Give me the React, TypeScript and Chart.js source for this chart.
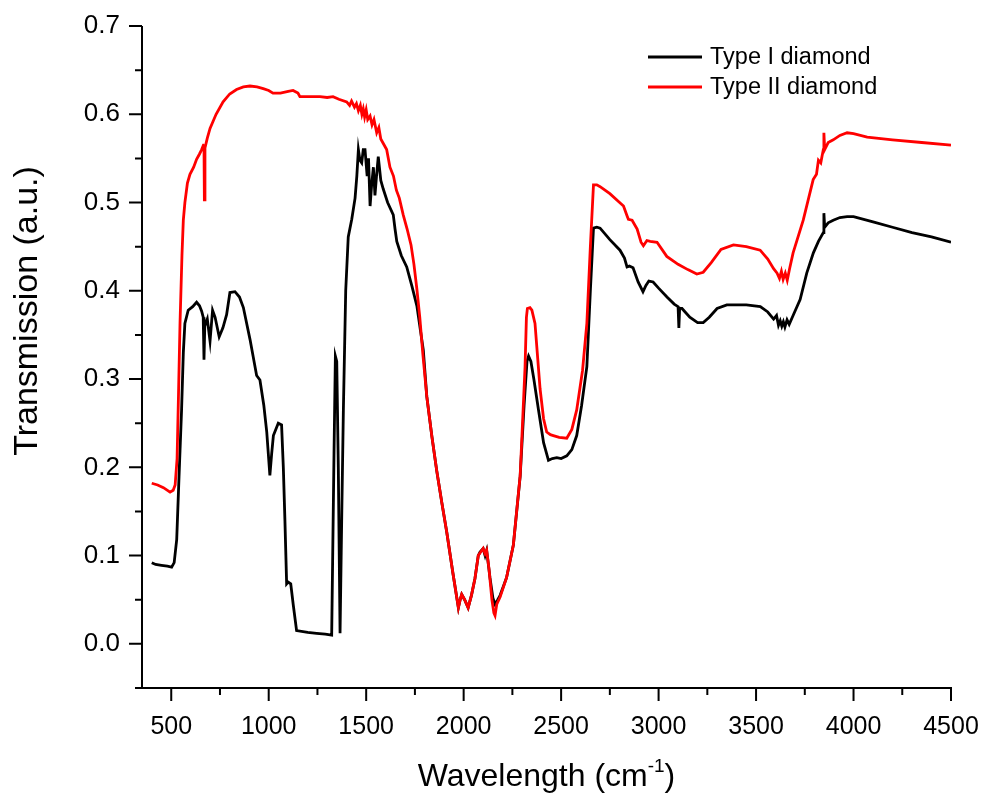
import { useEffect, useRef } from "react";
import { Chart, registerables } from "chart.js";

Chart.register(...registerables);

// Type I diamond: wavenumber (cm^-1) and transmission
const typeIWavenumber = [
  400, 420, 450, 480, 502, 515, 528, 540, 553, 562, 570, 587, 610, 630, 645, 656, 664, 668, 672, 685,
  699, 712, 725, 746, 765, 784, 801, 827, 850, 870, 904, 938, 955, 975, 990, 1006, 1015, 1024, 1049, 1066,
  1075, 1083, 1092, 1100, 1113, 1126, 1143, 1200, 1246, 1290, 1323, 1335, 1342, 1349, 1357, 1366, 1375, 1383, 1395, 1408,
  1426, 1443, 1452, 1460, 1468, 1477, 1485, 1494, 1505, 1512, 1520, 1528, 1537, 1545, 1553, 1562, 1575, 1588, 1610, 1639,
  1648, 1657, 1680, 1708, 1735, 1760, 1793, 1811, 1837, 1862, 1888, 1913, 1945, 1973, 1982, 1990, 2005, 2023, 2040, 2058,
  2075, 2084, 2100, 2110, 2118, 2135, 2150, 2161, 2175, 2187, 2220, 2255, 2290, 2310, 2325, 2333, 2345, 2360, 2384, 2410,
  2435, 2455, 2478, 2500, 2529, 2555, 2580, 2605, 2632, 2650, 2666, 2683, 2700, 2750, 2802, 2825, 2838, 2850, 2869, 2895,
  2920, 2935, 2950, 2972, 3000, 3043, 3080, 3100, 3104, 3108, 3120, 3160, 3200, 3229, 3260, 3300, 3350, 3383, 3450, 3522,
  3560, 3590, 3605, 3615, 3624, 3632, 3640, 3648, 3659, 3670, 3690, 3726, 3760, 3794, 3820, 3845, 3848, 3852, 3870, 3896,
  3930, 3967, 4000, 4100, 4200, 4300, 4400, 4500,
];
const typeIValues = [
  0.092, 0.09, 0.089, 0.088, 0.087, 0.092, 0.118, 0.19, 0.265, 0.33, 0.363, 0.378, 0.382, 0.387, 0.383, 0.377, 0.37, 0.322, 0.36, 0.368,
  0.343, 0.378, 0.37, 0.348, 0.358, 0.373, 0.398, 0.399, 0.393, 0.381, 0.345, 0.304, 0.299, 0.27, 0.24, 0.191, 0.215, 0.236, 0.25, 0.248,
  0.2, 0.141, 0.068, 0.07, 0.068, 0.044, 0.015, 0.013, 0.012, 0.011, 0.01, 0.216, 0.326, 0.32, 0.2, 0.012, 0.15, 0.265, 0.4, 0.461,
  0.481, 0.505, 0.53, 0.56, 0.548, 0.545, 0.56, 0.56, 0.53, 0.55, 0.496, 0.52, 0.54, 0.508, 0.53, 0.552, 0.525, 0.515, 0.5, 0.486,
  0.47, 0.456, 0.44, 0.427, 0.405, 0.383, 0.333, 0.28, 0.235, 0.196, 0.16, 0.127, 0.08, 0.041, 0.05, 0.056, 0.05, 0.041, 0.055, 0.074,
  0.1, 0.104, 0.108, 0.1, 0.106, 0.075, 0.052, 0.045, 0.05, 0.055, 0.075, 0.112, 0.19, 0.27, 0.32, 0.326, 0.32, 0.3, 0.265, 0.228,
  0.208, 0.21, 0.211, 0.21, 0.213, 0.22, 0.236, 0.27, 0.314, 0.4, 0.471, 0.472, 0.471, 0.458, 0.446, 0.437, 0.427, 0.428, 0.426, 0.41,
  0.399, 0.406, 0.411, 0.41, 0.403, 0.393, 0.385, 0.382, 0.358, 0.38, 0.38, 0.37, 0.364, 0.364, 0.37, 0.38, 0.384, 0.384, 0.384, 0.382,
  0.376, 0.368, 0.372, 0.361, 0.366, 0.36, 0.365, 0.359, 0.367, 0.362, 0.372, 0.39, 0.42, 0.443, 0.456, 0.466, 0.488, 0.472, 0.477, 0.48,
  0.483, 0.484, 0.484, 0.478, 0.472, 0.466, 0.461, 0.455,
];

// Type II diamond: wavenumber (cm^-1) and transmission
const typeIIWavenumber = [
  400, 430, 460, 494, 510, 520, 530, 537, 545, 555, 562, 570, 583, 596, 615, 630, 645, 656, 665, 668,
  670, 673, 685, 699, 730, 766, 800, 835, 870, 904, 940, 972, 1000, 1022, 1060, 1100, 1125, 1150, 1160, 1200,
  1263, 1300, 1330, 1360, 1400, 1415, 1425, 1440, 1450, 1460, 1470, 1478, 1485, 1492, 1500, 1508, 1520, 1530, 1540, 1554,
  1565, 1575, 1590, 1605, 1622, 1640, 1655, 1670, 1690, 1710, 1730, 1745, 1760, 1775, 1790, 1811, 1837, 1862, 1888, 1913,
  1945, 1973, 1982, 1990, 2005, 2023, 2040, 2058, 2075, 2084, 2100, 2110, 2118, 2130, 2145, 2155, 2161, 2170, 2187, 2220,
  2255, 2290, 2315, 2322, 2327, 2340, 2350, 2366, 2392, 2410, 2426, 2445, 2460, 2490, 2529, 2555, 2580, 2610, 2632, 2650,
  2666, 2683, 2700, 2750, 2800, 2820, 2838, 2845, 2864, 2890, 2910, 2922, 2940, 2957, 2992, 3042, 3100, 3150, 3196, 3229,
  3270, 3320, 3384, 3450, 3521, 3560, 3590, 3608, 3620, 3630, 3639, 3650, 3660, 3672, 3690, 3742, 3793, 3810, 3820, 3832,
  3845, 3848, 3852, 3870, 3896, 3930, 3967, 4000, 4070, 4200, 4350, 4500,
];
const typeIIValues = [
  0.182, 0.18, 0.177, 0.172, 0.174, 0.18, 0.21, 0.28, 0.363, 0.44, 0.48, 0.5, 0.522, 0.532, 0.54, 0.549, 0.555, 0.56, 0.565, 0.566,
  0.503, 0.562, 0.573, 0.584, 0.6, 0.614, 0.623, 0.628, 0.631, 0.632, 0.631, 0.629, 0.627, 0.624, 0.624, 0.626, 0.627, 0.624, 0.62, 0.62,
  0.62, 0.619, 0.62, 0.617, 0.614, 0.61, 0.615, 0.608, 0.612, 0.604, 0.61, 0.6, 0.606, 0.597, 0.605, 0.594, 0.598, 0.588, 0.594, 0.579,
  0.585, 0.572, 0.566, 0.56, 0.54, 0.53, 0.514, 0.505, 0.486, 0.47, 0.452, 0.43, 0.402, 0.37, 0.33, 0.28, 0.235, 0.196, 0.16, 0.127,
  0.08, 0.041, 0.05, 0.056, 0.05, 0.041, 0.055, 0.074, 0.1, 0.103, 0.108, 0.102, 0.106, 0.085, 0.05, 0.035, 0.032, 0.045, 0.053, 0.075,
  0.112, 0.191, 0.314, 0.37, 0.38, 0.381, 0.378, 0.363, 0.289, 0.255, 0.24, 0.237, 0.236, 0.234, 0.233, 0.243, 0.265, 0.31, 0.363, 0.45,
  0.52, 0.52, 0.518, 0.51, 0.5, 0.496, 0.485, 0.481, 0.48, 0.47, 0.455, 0.451, 0.457, 0.456, 0.455, 0.439, 0.43, 0.424, 0.419, 0.421,
  0.432, 0.447, 0.452, 0.45, 0.446, 0.436, 0.425, 0.42, 0.414, 0.422, 0.413, 0.42, 0.412, 0.425, 0.443, 0.48, 0.526, 0.532, 0.548, 0.545,
  0.56, 0.579, 0.56, 0.568, 0.571, 0.576, 0.579, 0.578, 0.574, 0.571, 0.568, 0.565,
];

const seriesLabels = ["Type I diamond", "Type II diamond"];
const seriesColors = ["#000000", "#ff0000"];

const xMajorTicks = [500, 1000, 1500, 2000, 2500, 3000, 3500, 4000, 4500];
const yMajorTicks = [0, 0.1, 0.2, 0.3, 0.4, 0.5, 0.6, 0.7];
const xRange = [350, 4500];
const yRange = [-0.05, 0.7];

const xTitleMain = "Wavelength (cm";
const xTitleSup = "-1";
const xTitleEnd = ")";
const yTitle = "Transmission (a.u.)";

const FONT = "'Liberation Sans', Arial, Helvetica, sans-serif";

const toPoints = (xs: number[], ys: number[]) => xs.map((x, i) => ({ x, y: ys[i] }));

// Axis lines, major/minor tick marks, axis titles and the in-plot legend
const decorations = {
  id: "decorations",
  afterDraw(chart: any) {
    const { ctx, chartArea, scales } = chart;
    const xs = scales.x;
    const ys = scales.y;
    const { left, right, top, bottom } = chartArea;
    ctx.save();
    ctx.strokeStyle = "#000";
    ctx.lineWidth = 2;

    ctx.beginPath();
    ctx.moveTo(left, top);
    ctx.lineTo(left, bottom);
    ctx.lineTo(right + 1, bottom);
    ctx.stroke();

    const major = 13;
    const minor = 7;
    ctx.beginPath();
    xMajorTicks.forEach((v, i) => {
      const px = xs.getPixelForValue(v);
      ctx.moveTo(px, bottom);
      ctx.lineTo(px, bottom + major);
      if (i < xMajorTicks.length - 1) {
        const mid = xs.getPixelForValue((v + xMajorTicks[i + 1]) / 2);
        ctx.moveTo(mid, bottom);
        ctx.lineTo(mid, bottom + minor);
      }
    });
    yMajorTicks.forEach((v, i) => {
      const py = ys.getPixelForValue(v);
      ctx.moveTo(left, py);
      ctx.lineTo(left - major, py);
      const below = i === 0 ? v - 0.05 : (v + yMajorTicks[i - 1]) / 2;
      const pm = ys.getPixelForValue(below);
      ctx.moveTo(left, pm);
      ctx.lineTo(left - minor, pm);
    });
    ctx.stroke();

    // legend
    ctx.lineWidth = 3;
    ctx.fillStyle = "#000";
    ctx.font = `23.5px ${FONT}`;
    ctx.textBaseline = "middle";
    ctx.textAlign = "left";
    chart.data.datasets.forEach((ds: any, i: number) => {
      const yy = 57 + i * 30;
      ctx.strokeStyle = ds.borderColor;
      ctx.beginPath();
      ctx.moveTo(648, yy);
      ctx.lineTo(702, yy);
      ctx.stroke();
      ctx.fillText(ds.label, 710, yy + 1);
    });

    // x title with superscript
    ctx.fillStyle = "#000";
    ctx.textBaseline = "alphabetic";
    const mainFont = `32px ${FONT}`;
    const supFont = `19px ${FONT}`;
    ctx.font = mainFont;
    const w1 = ctx.measureText(xTitleMain).width;
    const w3 = ctx.measureText(xTitleEnd).width;
    ctx.font = supFont;
    const w2 = ctx.measureText(xTitleSup).width;
    const total = w1 + w2 + w3;
    const cx = (left + right) / 2;
    let tx = cx - total / 2;
    const base = 786;
    ctx.font = mainFont;
    ctx.fillText(xTitleMain, tx, base);
    tx += w1;
    ctx.font = supFont;
    ctx.fillText(xTitleSup, tx, base - 14);
    tx += w2;
    ctx.font = mainFont;
    ctx.fillText(xTitleEnd, tx, base);

    // y title
    ctx.translate(28, 311);
    ctx.rotate(-Math.PI / 2);
    ctx.font = `34px ${FONT}`;
    ctx.textAlign = "center";
    ctx.textBaseline = "middle";
    ctx.fillText(yTitle, 0, 0);
    ctx.restore();
  },
};

// Invisible tick marks only serve to offset the tick labels from the axes
const hiddenGrid = (len: number) => ({
  display: true,
  drawOnChartArea: false,
  drawTicks: true,
  tickLength: len,
  tickColor: "rgba(0,0,0,0)",
  color: "rgba(0,0,0,0)",
});

export default function App() {
  const canvasRef = useRef<HTMLCanvasElement | null>(null);

  useEffect(() => {
    document.body.style.margin = "0";
    const canvas = canvasRef.current;
    if (!canvas) return;
    const chart = new Chart(canvas, {
      type: "line",
      data: {
        datasets: [
          {
            label: seriesLabels[0],
            data: toPoints(typeIWavenumber, typeIValues),
            borderColor: seriesColors[0],
            backgroundColor: seriesColors[0],
            borderWidth: 2.8,
            pointRadius: 0,
            tension: 0,
            order: 2,
          },
          {
            label: seriesLabels[1],
            data: toPoints(typeIIWavenumber, typeIIValues),
            borderColor: seriesColors[1],
            backgroundColor: seriesColors[1],
            borderWidth: 2.8,
            pointRadius: 0,
            tension: 0,
            order: 1,
          },
        ],
      },
      options: {
        responsive: false,
        animation: false,
        devicePixelRatio: 1,
        layout: { padding: { left: 0, right: 33, top: 26, bottom: 0 } },
        plugins: {
          legend: { display: false },
          tooltip: { enabled: false },
          title: { display: false },
        },
        scales: {
          x: {
            type: "linear",
            min: xRange[0],
            max: xRange[1],
            border: { display: false },
            grid: hiddenGrid(24),
            afterBuildTicks: (scale: any) => {
              scale.ticks = xMajorTicks.map((value) => ({ value }));
            },
            afterFit: (scale: any) => {
              scale.height = 109;
            },
            ticks: {
              autoSkip: false,
              maxRotation: 0,
              padding: 0,
              color: "#000",
              font: { family: FONT, size: 25 },
              callback: (v: any) => String(v),
            },
          },
          y: {
            type: "linear",
            min: yRange[0],
            max: yRange[1],
            border: { display: false },
            grid: hiddenGrid(22),
            afterBuildTicks: (scale: any) => {
              scale.ticks = yMajorTicks.map((value) => ({ value }));
            },
            afterFit: (scale: any) => {
              scale.width = 142;
            },
            ticks: {
              padding: 0,
              color: "#000",
              font: { family: FONT, size: 26 },
              callback: (v: any) => Number(v).toFixed(1),
            },
          },
        },
      },
      plugins: [decorations],
    });
    return () => chart.destroy();
  }, []);

  return (
    <canvas
      ref={canvasRef}
      width={984}
      height={797}
      style={{ display: "block", width: 984, height: 797 }}
    />
  );
}
